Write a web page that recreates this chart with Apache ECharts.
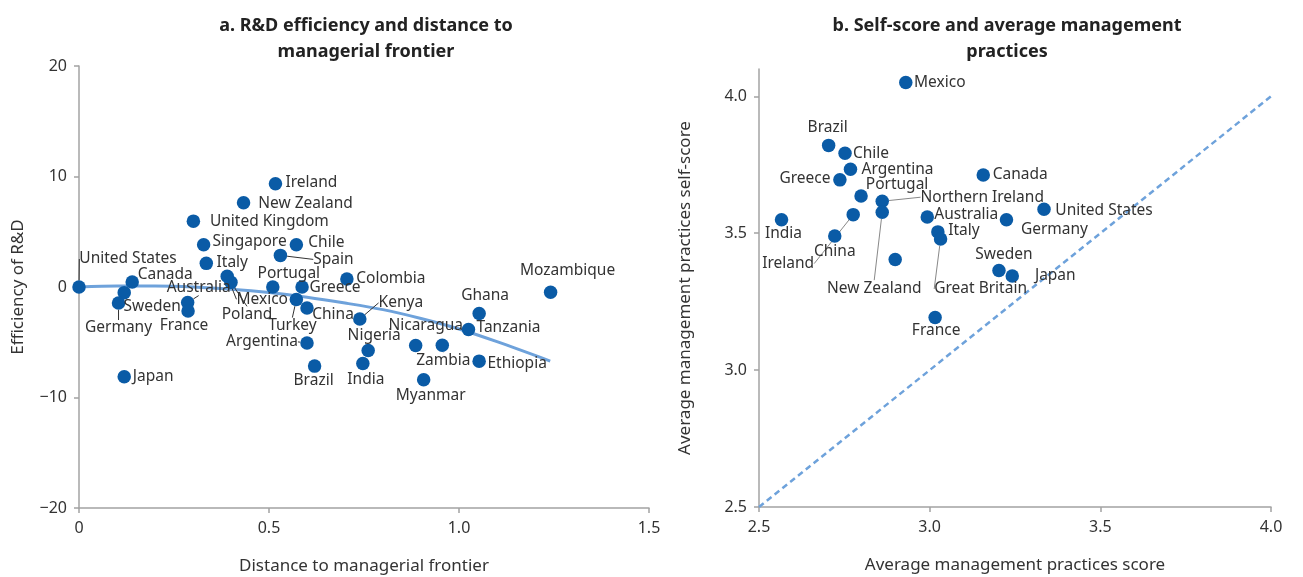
<!DOCTYPE html>
<html>
<head>
<meta charset="utf-8">
<script src="https://cdn.jsdelivr.net/npm/echarts@6/dist/echarts.min.js"></script>
<style>
  html, body { margin: 0; padding: 0; background: #fff; }
  #chart { width: 1303px; height: 577px; }
</style>
</head>
<body>
<div id="chart"></div>
<script>
// a. R&D efficiency vs distance to managerial frontier
const rdNames = ['United States', 'Canada', 'Sweden', 'Germany', 'Japan', 'United Kingdom', 'Singapore', 'Italy',
  'Australia', 'France', 'Mexico', 'Poland', 'Ireland', 'New Zealand', 'Chile', 'Spain', 'Portugal', 'Greece',
  'Turkey', 'China', 'Argentina', 'Brazil', 'Colombia', 'Kenya', 'Nigeria', 'India', 'Nicaragua', 'Zambia',
  'Myanmar', 'Tanzania', 'Ghana', 'Ethiopia', 'Mozambique'];
const rdDistance = [0, 0.14, 0.119, 0.104, 0.119, 0.301, 0.328, 0.335,
  0.286, 0.287, 0.39, 0.40, 0.517, 0.433, 0.572, 0.53, 0.51, 0.587,
  0.572, 0.60, 0.60, 0.62, 0.705, 0.739, 0.761, 0.747, 0.886, 0.956,
  0.907, 1.025, 1.053, 1.053, 1.241];
const rdEfficiency = [0, 0.45, -0.51, -1.45, -8.13, 5.96, 3.83, 2.14,
  -1.41, -2.17, 0.97, 0.42, 9.34, 7.62, 3.83, 2.86, 0, 0,
  -1.14, -1.9, -5.06, -7.16, 0.72, -2.89, -5.75, -6.92, -5.29, -5.27,
  -8.4, -3.85, -2.4, -6.71, -0.48];
// fitted curve
const fitDistance = [0, 0.1, 0.2, 0.3, 0.4, 0.5, 0.6, 0.7, 0.8, 0.9, 1.0, 1.1, 1.24];
const fitEfficiency = [0, 0.08, 0.08, 0.0, -0.2, -0.5, -0.92, -1.45, -2.05, -2.85, -3.8, -4.95, -6.7];

// b. Self-score vs average management practices
const mgNames = ['Mexico', 'Brazil', 'Chile', 'Argentina', 'Greece', 'Portugal', 'Northern Ireland', 'New Zealand',
  'Ireland', 'India', 'China', '', 'Australia', 'Italy', 'Great Britain', 'Canada', 'Germany', 'United States',
  'Sweden', 'Japan', 'France'];
const mgScore = [2.930, 2.704, 2.752, 2.768, 2.737, 2.799, 2.861, 2.861,
  2.776, 2.566, 2.722, 2.899, 2.993, 3.024, 3.032, 3.157, 3.225, 3.335,
  3.203, 3.242, 3.016];
const mgSelfScore = [4.051, 3.821, 3.792, 3.734, 3.695, 3.636, 3.617, 3.577,
  3.568, 3.549, 3.490, 3.404, 3.559, 3.505, 3.479, 3.713, 3.549, 3.588,
  3.364, 3.344, 3.192];
const diagScore = [2.5, 4.0];

const aXTicks = [0, 0.5, 1.0, 1.5];
const aYTicks = [-20, -10, 0, 10, 20];
const bXTicks = [2.5, 3.0, 3.5, 4.0];
const bYTicks = [2.5, 3.0, 3.5, 4.0];

// label centre offsets from the dot, px
const rdLabelPos = {
  'United States': [49, -28], 'Canada': [33, -7], 'Sweden': [28, 14], 'Germany': [0, 25], 'Japan': [29, 0],
  'United Kingdom': [76, 0], 'Singapore': [46, -3], 'Italy': [26, -1], 'Australia': [11, -15], 'France': [-4, 15],
  'Mexico': [35, 23], 'Poland': [16, 32], 'Ireland': [36, -1], 'New Zealand': [62, 1], 'Chile': [30, -2],
  'Spain': [53, 4], 'Portugal': [16, -13], 'Greece': [33, 1], 'Turkey': [-4, 26], 'China': [26, 7],
  'Argentina': [-45, -1], 'Brazil': [-1, 14], 'Colombia': [44, 0], 'Kenya': [41, -16], 'Nigeria': [6, -15],
  'India': [3, 16], 'Nicaragua': [10, -20], 'Zambia': [1, 15], 'Myanmar': [7, 16], 'Tanzania': [40, -2],
  'Ghana': [6, -18], 'Ethiopia': [38, 2], 'Mozambique': [17, -22]
};
const rdLeaders = ['United States', 'Germany', 'Australia', 'Mexico', 'Poland', 'Spain', 'Turkey', 'Argentina', 'Kenya', 'Zambia'];

const mgLabelPos = {
  'Mexico': [34, 0], 'Brazil': [-1, -18], 'Chile': [26, 0], 'Argentina': [47, 0], 'Greece': [-35, -1],
  'Portugal': [36, -11], 'Northern Ireland': [100, -4], 'New Zealand': [-8, 76], 'Ireland': [-65, 49],
  'India': [2, 14], 'China': [0, 16], 'Australia': [39, -3], 'Italy': [26, -1], 'Great Britain': [40, 50],
  'Canada': [37, 0], 'Germany': [48, 10], 'United States': [60, 1], 'Sweden': [5, -16], 'Japan': [43, 0],
  'France': [1, 13]
};
const mgLeaders = ['Northern Ireland', 'New Zealand', 'Ireland', 'Great Britain'];

const dotColor = '#0a5ba6';
const fitColor = '#6ea2db';
const axisGrey = '#a3a3a3';
const textColor = '#333';
const font = 'Noto Sans';

function pairs(xs, ys) {
  return xs.map(function (x, i) { return [x, ys[i]]; });
}

function dots(names, xs, ys, leaders, leaderColor) {
  return names.map(function (n, i) {
    const item = { name: n, value: [xs[i], ys[i]] };
    if (leaders.indexOf(n) >= 0) {
      item.labelLine = { show: true, lineStyle: { color: leaderColor, width: 1 } };
    }
    return item;
  });
}

function placer(names, pos) {
  return function (params) {
    const p = pos[names[params.dataIndex]] || [0, 0];
    return {
      x: params.rect.x + params.rect.width / 2 + p[0],
      y: params.rect.y + params.rect.height / 2 + p[1],
      align: 'center',
      verticalAlign: 'middle'
    };
  };
}

function minus(v) { return String(v).replace('-', '\u2212'); }

const chart = echarts.init(document.getElementById('chart'));

const axisCommon = {
  axisLine: { show: true, onZero: false, lineStyle: { color: axisGrey, width: 1.5 } },
  axisTick: { show: true, length: 5, lineStyle: { color: axisGrey, width: 1.5 } },
  splitLine: { show: false },
  nameTextStyle: { color: textColor, fontSize: 17, fontFamily: font }
};
const labelCommon = { color: textColor, fontSize: 16, fontFamily: font };

const option = {
  backgroundColor: '#fff',
  animation: false,
  title: [{
    text: 'a. R&D efficiency and distance to\nmanagerial frontier',
    left: 361, top: 8, textAlign: 'center',
    textStyle: { fontSize: 18, fontWeight: 'bold', color: '#222', fontFamily: font, lineHeight: 26 }
  }, {
    text: 'b. Self-score and average management\npractices',
    left: 1002, top: 8, textAlign: 'center',
    textStyle: { fontSize: 18, fontWeight: 'bold', color: '#222', fontFamily: font, lineHeight: 26 }
  }],
  grid: [
    { left: 79, top: 66, width: 570, height: 442, containLabel: false, outerBoundsMode: 'none' },
    { left: 759, top: 69, width: 512, height: 438, containLabel: false, outerBoundsMode: 'none' }
  ],
  xAxis: [Object.assign({}, axisCommon, {
    gridIndex: 0, type: 'value',
    min: aXTicks[0], max: aXTicks[aXTicks.length - 1], interval: aXTicks[1] - aXTicks[0],
    name: 'Distance to managerial frontier', nameLocation: 'middle', nameGap: 50,
    axisLabel: Object.assign({}, labelCommon, { margin: 12, formatter: function (v) { return v === 0 ? '0' : v.toFixed(1); } })
  }), Object.assign({}, axisCommon, {
    gridIndex: 1, type: 'value',
    min: bXTicks[0], max: bXTicks[bXTicks.length - 1], interval: 0.5,
    name: 'Average management practices score', nameLocation: 'middle', nameGap: 50,
    axisLabel: Object.assign({}, labelCommon, { margin: 12, formatter: function (v) { return v.toFixed(1); } })
  })],
  yAxis: [Object.assign({}, axisCommon, {
    gridIndex: 0, type: 'value',
    min: aYTicks[0], max: aYTicks[aYTicks.length - 1], interval: 10,
    name: 'Efficiency of R&D', nameLocation: 'middle', nameGap: 52,
    axisLabel: Object.assign({}, labelCommon, { margin: 12, formatter: minus })
  }), Object.assign({}, axisCommon, {
    gridIndex: 1, type: 'value',
    min: bYTicks[0], max: 4.1, interval: 0.5,
    name: 'Average management practices self-score', nameLocation: 'middle', nameGap: 65,
    axisLabel: Object.assign({}, labelCommon, {
      margin: 12, showMaxLabel: false,
      formatter: function (v) { return bYTicks.indexOf(Math.round(v * 10) / 10) >= 0 ? v.toFixed(1) : ''; }
    })
  })],
  series: [{
    type: 'line', xAxisIndex: 0, yAxisIndex: 0,
    data: pairs(fitDistance, fitEfficiency),
    smooth: 0.3, symbol: 'none', z: 1,
    lineStyle: { color: fitColor, width: 3 }
  }, {
    type: 'scatter', xAxisIndex: 0, yAxisIndex: 0, z: 3,
    data: dots(rdNames, rdDistance, rdEfficiency, rdLeaders, '#333'),
    symbolSize: 13.5,
    itemStyle: { color: dotColor, opacity: 1 },
    label: { show: true, formatter: '{b}', color: textColor, fontSize: 15.5, fontFamily: font },
    labelLine: { show: false },
    labelLayout: placer(rdNames, rdLabelPos)
  }, {
    type: 'line', xAxisIndex: 1, yAxisIndex: 1,
    data: pairs(diagScore, diagScore),
    symbol: 'none', z: 1,
    lineStyle: { color: fitColor, width: 2.5, type: [6, 4] }
  }, {
    type: 'scatter', xAxisIndex: 1, yAxisIndex: 1, z: 3,
    data: dots(mgNames, mgScore, mgSelfScore, mgLeaders, '#888'),
    symbolSize: 13.5,
    itemStyle: { color: dotColor, opacity: 1 },
    label: { show: true, formatter: '{b}', color: textColor, fontSize: 15.5, fontFamily: font },
    labelLine: { show: false },
    labelLayout: placer(mgNames, mgLabelPos)
  }]
};

chart.setOption(option);
</script>
</body>
</html>
